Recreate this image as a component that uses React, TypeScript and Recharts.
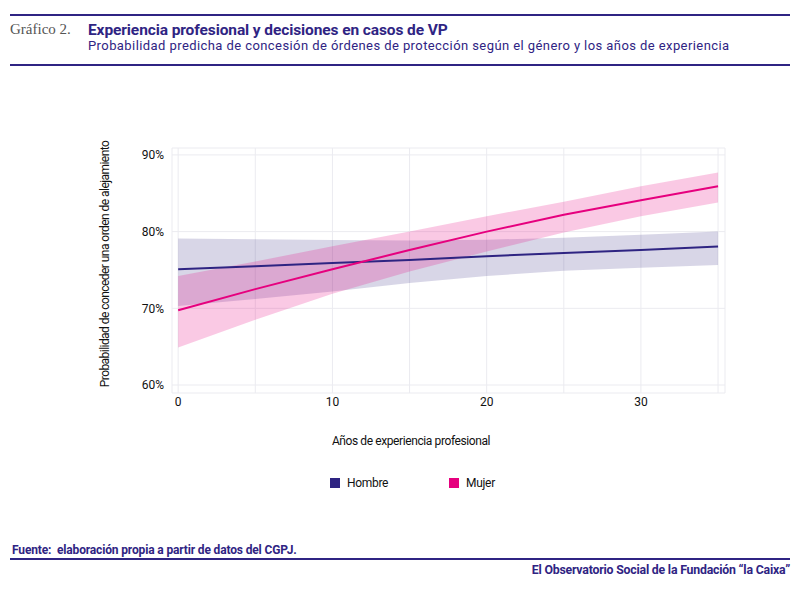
import { ComposedChart, Area, Line, XAxis, YAxis, CartesianGrid } from 'recharts'

const years = [0, 5, 10, 15, 20, 25, 30, 35]

// probabilidad predicha (%) e intervalos de confianza
const hombreFit = [75.1, 75.5, 75.9, 76.3, 76.8, 77.2, 77.6, 78.05]
const hombreLow = [70.3, 71.2, 72.2, 73.3, 74.2, 74.9, 75.3, 75.65]
const hombreHigh = [79.1, 79.0, 78.9, 78.85, 78.95, 79.2, 79.6, 80.0]

const mujerFit = [69.75, 72.5, 75.1, 77.6, 80.0, 82.2, 84.1, 85.9]
const mujerLow = [64.9, 68.5, 71.9, 74.8, 77.4, 79.9, 82.0, 83.8]
const mujerHigh = [74.2, 76.1, 78.1, 80.0, 82.0, 83.9, 85.9, 87.7]

const xTicks = [0, 5, 10, 15, 20, 25, 30, 35]
const yTicks = [60, 70, 80, 90]

const PURPLE = '#2e2482'
const PINK = '#e6007e'
const INK = '#2f2483'
const AXIS_FONT = 'Roboto, sans-serif'

const data = years.map((y, i) => ({
  anios: y,
  hombre: hombreFit[i],
  hombreCI: [hombreLow[i], hombreHigh[i]],
  mujer: mujerFit[i],
  mujerCI: [mujerLow[i], mujerHigh[i]],
}))

const legendItems = [
  { label: 'Hombre', color: PURPLE },
  { label: 'Mujer', color: PINK },
]

export default function App() {
  return (
    <div style={{ position: 'absolute', left: 0, top: 0, width: 800, height: 591, background: '#fff', fontFamily: 'Roboto, sans-serif' }}>
      {/* cabecera */}
      <div style={{ position: 'absolute', left: 10, top: 14, width: 780, height: 2, background: INK }} />
      <div style={{ position: 'absolute', left: 10, top: 21, fontFamily: "'Liberation Serif', serif", fontSize: 15, color: '#555', whiteSpace: 'nowrap' }}>
        Gráfico 2.
      </div>
      <div style={{ position: 'absolute', left: 88, top: 21, fontSize: 15.5, fontWeight: 700, color: INK, whiteSpace: 'nowrap', letterSpacing: -0.1 }}>
        Experiencia profesional y decisiones en casos de VP
      </div>
      <div style={{ position: 'absolute', left: 88, top: 38, fontSize: 13, color: INK, whiteSpace: 'nowrap', letterSpacing: 0.42 }}>
        Probabilidad predicha de concesión de órdenes de protección según el género y los años de experiencia
      </div>
      <div style={{ position: 'absolute', left: 10, top: 64, width: 780, height: 2, background: INK }} />

      <div style={{ position: 'absolute', left: 0, top: 0 }}>
        <ComposedChart width={800} height={591} data={data} margin={{ top: 148, right: 75, bottom: 178, left: 0 }}>
          <CartesianGrid stroke="#ebebf0" strokeWidth={1} />
          <XAxis
            dataKey="anios"
            type="number"
            domain={[-0.4, 35.45]}
            ticks={xTicks}
            tickFormatter={(v) => (v % 10 === 0 ? String(v) : '')}
            axisLine={false}
            tickLine={false}
            tickSize={0}
            tickMargin={4}
            height={20}
            tick={{ fill: '#111', fontSize: 12, fontFamily: AXIS_FONT }}
          />
          <YAxis
            type="number"
            domain={[58.96, 90.9]}
            ticks={yTicks}
            tickFormatter={(v) => `${v}%`}
            axisLine={false}
            tickLine={false}
            tickSize={0}
            tickMargin={8}
            width={172}
            tick={{ fill: '#111', fontSize: 12, fontFamily: AXIS_FONT }}
          />
          <Area dataKey="hombreCI" type="linear" fill={PURPLE} fillOpacity={0.19} stroke="none" isAnimationActive={false} />
          <Area dataKey="mujerCI" type="linear" fill={PINK} fillOpacity={0.21} stroke="none" isAnimationActive={false} />
          <Line dataKey="hombre" type="linear" stroke={PURPLE} strokeWidth={2} dot={false} isAnimationActive={false} />
          <Line dataKey="mujer" type="linear" stroke={PINK} strokeWidth={2} dot={false} isAnimationActive={false} />
        </ComposedChart>
      </div>

      {/* títulos de ejes */}
      <div style={{ position: 'absolute', left: 105, top: 264, transform: 'translate(-50%, -50%) rotate(-90deg)', fontFamily: AXIS_FONT, fontSize: 12, color: '#111', whiteSpace: 'nowrap', letterSpacing: -0.55 }}>
        Probabilidad de conceder una orden de alejamiento
      </div>
      <div style={{ position: 'absolute', left: 411, top: 441, transform: 'translate(-50%, -50%)', fontFamily: AXIS_FONT, fontSize: 12, color: '#111', whiteSpace: 'nowrap', letterSpacing: -0.4 }}>
        Años de experiencia profesional
      </div>

      {/* leyenda */}
      <div style={{ position: 'absolute', left: 330, top: 475, display: 'flex', fontFamily: AXIS_FONT, fontSize: 12, color: '#111', letterSpacing: -0.3 }}>
        {legendItems.map((it) => (
          <div key={it.label} style={{ display: 'flex', alignItems: 'center', width: 119, height: 15 }}>
            <div style={{ width: 10, height: 10, background: it.color, marginRight: 7 }} />
            <span>{it.label}</span>
          </div>
        ))}
      </div>

      {/* pie */}
      <div style={{ position: 'absolute', left: 12, top: 543, fontSize: 12, fontWeight: 700, color: INK, whiteSpace: 'nowrap', letterSpacing: -0.15 }}>
        Fuente:&nbsp; elaboración propia a partir de datos del CGPJ.
      </div>
      <div style={{ position: 'absolute', left: 10, top: 558, width: 780, height: 2, background: INK }} />
      <div style={{ position: 'absolute', right: 10, top: 563, fontSize: 12.3, fontWeight: 700, color: INK, whiteSpace: 'nowrap', letterSpacing: -0.2 }}>
        El Observatorio Social de la Fundación “la Caixa”
      </div>
    </div>
  )
}
